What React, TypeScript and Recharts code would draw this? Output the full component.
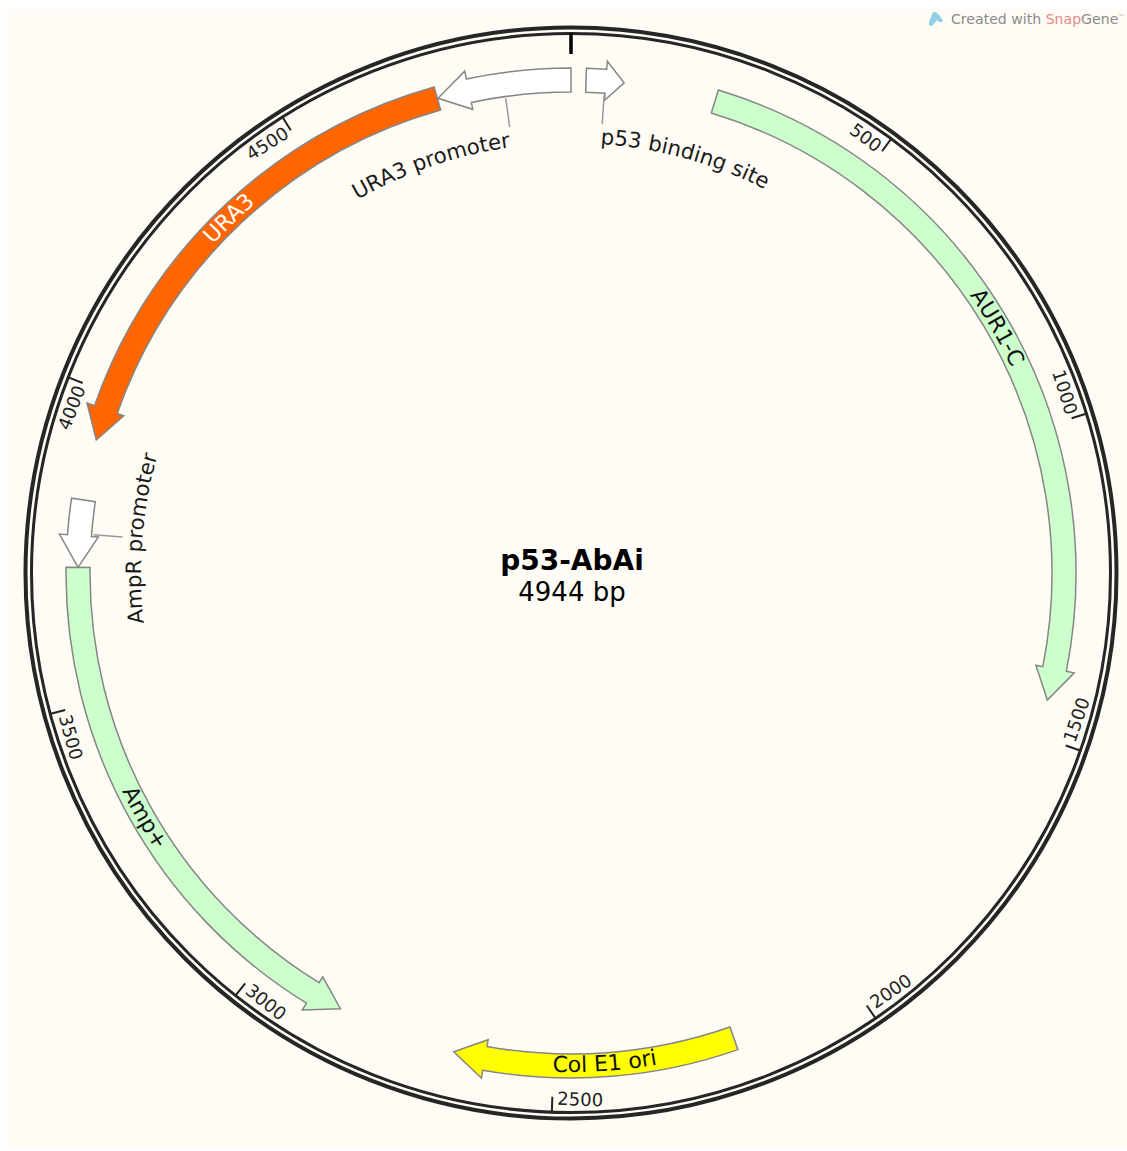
import React from 'react';
import { RadialBarChart, RadialBar, PolarAngleAxis, PolarGrid } from 'recharts';

const totalBp = 4944;
const tickValues = [0, 500, 1000, 1500, 2000, 2500, 3000, 3500, 4000, 4500];

const featureNames = ['p53 binding site', 'AUR1-C', 'Col E1 ori', 'Amp+', 'AmpR promoter', 'URA3', 'URA3 promoter'];
const featureStarts = [24, 233, 2207, 2855, 3717, 3923, 4729];
const featureEnds = [85, 1441, 2661, 3717, 3825, 4728, 4944];
const featureStrands = [1, 1, 1, -1, -1, -1, -1];
const labelCentres = [211, 825, 2418, 3298, 3771, 4340, 4684];

const fills: Record<string, string> = {
  'p53 binding site': '#ffffff',
  'AUR1-C': '#ccffcc',
  'Col E1 ori': '#ffff00',
  'Amp+': '#ccffcc',
  'AmpR promoter': '#ffffff',
  URA3: '#ff6600',
  'URA3 promoter': '#ffffff',
};
const outsideLabels = ['p53 binding site', 'AmpR promoter', 'URA3 promoter'];

const chartData = featureNames.map((name, i) => ({
  name,
  span: [featureStarts[i], featureEnds[i]],
  strand: featureStrands[i],
  labelCentre: labelCentres[i],
}));

const CX = 571;
const CY = 573;
const TRACK_IN = 481;
const TRACK_OUT = 505;
const TRACK_MID = 493;
const BARB_IN = 474;
const BARB_OUT = 513;
const FONT = '"DejaVu Sans", Verdana, sans-serif';

const pt = (r: number, angle: number) => {
  const rad = (-angle * Math.PI) / 180;
  return `${(CX + r * Math.cos(rad)).toFixed(2)} ${(CY + r * Math.sin(rad)).toFixed(2)}`;
};
// sweep is clockwise on screen when the angle falls
const arc = (r: number, a1: number, a2: number) => {
  const sweep = a2 < a1 ? 1 : 0;
  const large = Math.abs(a1 - a2) > 180 ? 1 : 0;
  return `A ${r} ${r} 0 ${large} ${sweep} ${pt(r, a2)}`;
};

const CurvedLabel = ({ id, text, angle, r, size, fill, halfSpan = 40 }: any) => {
  // angle is in recharts degrees, upper half reads clockwise, lower half the other way
  const upper = Math.sin((angle * Math.PI) / 180) >= 0;
  const a1 = upper ? angle + halfSpan : angle - halfSpan;
  const a2 = upper ? angle - halfSpan : angle + halfSpan;
  return (
    <>
      <path id={id} d={`M ${pt(r, a1)} ${arc(r, a1, a2)}`} fill="none" stroke="none" />
      <text fontFamily={FONT} fontSize={size} fill={fill} textAnchor="middle">
        <textPath href={`#${id}`} startOffset="50%">{text}</textPath>
      </text>
    </>
  );
};

const FeatureArrow = (props: any) => {
  const { startAngle, endAngle, payload } = props;
  const { name, strand, span, labelCentre } = payload;
  const tail = strand > 0 ? startAngle : endAngle;
  const tip = strand > 0 ? endAngle : startAngle;
  const dir = tip < tail ? -1 : 1;
  const length = Math.abs(tip - tail);
  const headLen = Math.min(3.7, length * 0.48);
  const neck = tip - dir * headLen;
  const d = [
    `M ${pt(TRACK_OUT, tail)}`,
    arc(TRACK_OUT, tail, neck),
    `L ${pt(BARB_OUT, neck)}`,
    `L ${pt(TRACK_MID, tip)}`,
    `L ${pt(BARB_IN, neck)}`,
    `L ${pt(TRACK_IN, neck)}`,
    arc(TRACK_IN, neck, tail),
    'Z',
  ].join(' ');

  const perBp = (endAngle - startAngle) / (span[1] - span[0]);
  const labelAngle = startAngle + (labelCentre - span[0]) * perBp;
  const midAngle = (startAngle + endAngle) / 2;
  const id = `label-${name.replace(/[^a-zA-Z0-9]/g, '')}`;
  const outside = outsideLabels.includes(name);
  const upper = Math.sin((labelAngle * Math.PI) / 180) >= 0;

  return (
    <g>
      <path d={d} fill={fills[name]} stroke="#868686" strokeWidth={1.5} strokeLinejoin="miter" />
      {outside && (
        <path d={`M ${pt(479, midAngle)} L ${pt(450, midAngle)}`} stroke="#999999" strokeWidth={1.5} fill="none" />
      )}
      {outside ? (
        <CurvedLabel id={id} text={name} angle={labelAngle} r={430} size={21.3} fill="#1a1a1a" />
      ) : (
        <CurvedLabel
          id={id}
          text={name}
          angle={labelAngle}
          r={upper ? TRACK_MID - 7 : TRACK_MID + 6}
          size={22}
          fill={name === 'URA3' ? '#ffffff' : '#111111'}
        />
      )}
    </g>
  );
};

const PositionTick = (props: any) => {
  const { payload } = props;
  const angle = payload.coordinate;
  const value = payload.value;
  if (value === 0) {
    return <path d={`M ${pt(519, angle)} L ${pt(540, angle)}`} stroke="#000000" strokeWidth={3.5} />;
  }
  let cw = 90 - angle;
  while (cw > 180) cw -= 360;
  while (cw <= -180) cw += 360;
  const upper = Math.abs(cw) <= 90;
  const [x, y] = pt(upper ? 519 : 532, angle).split(' ').map(Number);
  return (
    <g>
      <path d={`M ${pt(524, angle)} L ${pt(540, angle)}`} stroke="#222222" strokeWidth={2} />
      <text
        transform={`translate(${x} ${y}) rotate(${upper ? cw : cw - 180})`}
        x={upper ? -4 : 5}
        textAnchor={upper ? 'end' : 'start'}
        fontFamily={FONT}
        fontSize={18}
        fill="#222222"
      >
        {value}
      </text>
    </g>
  );
};

export default function App() {
  return (
    <div style={{ position: 'absolute', left: 0, top: 0, width: 1127, height: 1151, background: '#ffffff' }}>
      <div style={{ position: 'absolute', left: 7, top: 9, width: 1120, height: 1141, background: '#fffcf6' }} />
      <div style={{ position: 'absolute', left: 0, top: 0 }}>
        <RadialBarChart
          width={1127}
          height={1151}
          data={chartData}
          cx={CX}
          cy={CY}
          innerRadius={TRACK_IN}
          outerRadius={TRACK_OUT}
          startAngle={90}
          endAngle={-270}
          margin={{ top: 0, right: 0, bottom: 0, left: 0 }}
        >
          <PolarGrid gridType="circle" radialLines={false} polarRadius={[545.5]} stroke="#262626" strokeWidth={4} />
          <PolarGrid gridType="circle" radialLines={false} polarRadius={[539.5]} stroke="#262626" strokeWidth={3} />
          <PolarAngleAxis
            type="number"
            domain={[0, totalBp]}
            ticks={tickValues}
            tick={<PositionTick />}
            tickLine={false}
            axisLine={false}
          />
          <RadialBar dataKey="span" isAnimationActive={false} shape={FeatureArrow} />
          <text x={572} y={570} textAnchor="middle" fontFamily={FONT} fontWeight="bold" fontSize={28} fill="#000000">
            p53-AbAi
          </text>
          <text x={572} y={601} textAnchor="middle" fontFamily={FONT} fontSize={26} fill="#000000">
            4944 bp
          </text>
          <path d="M 933 12 Q 938 11 943 21 Q 940 24 937 20 L 932 26 Q 928 26 929 22 Z" fill="#8fd0e8" />
          <text x={951} y={24} fontFamily={FONT} fontSize={14.1} fill="#8a8a8a">
            Created with <tspan fill="#e58a8a">Snap</tspan>Gene<tspan fontSize={6} dy={-5}>™</tspan>
          </text>
        </RadialBarChart>
      </div>
    </div>
  );
}
